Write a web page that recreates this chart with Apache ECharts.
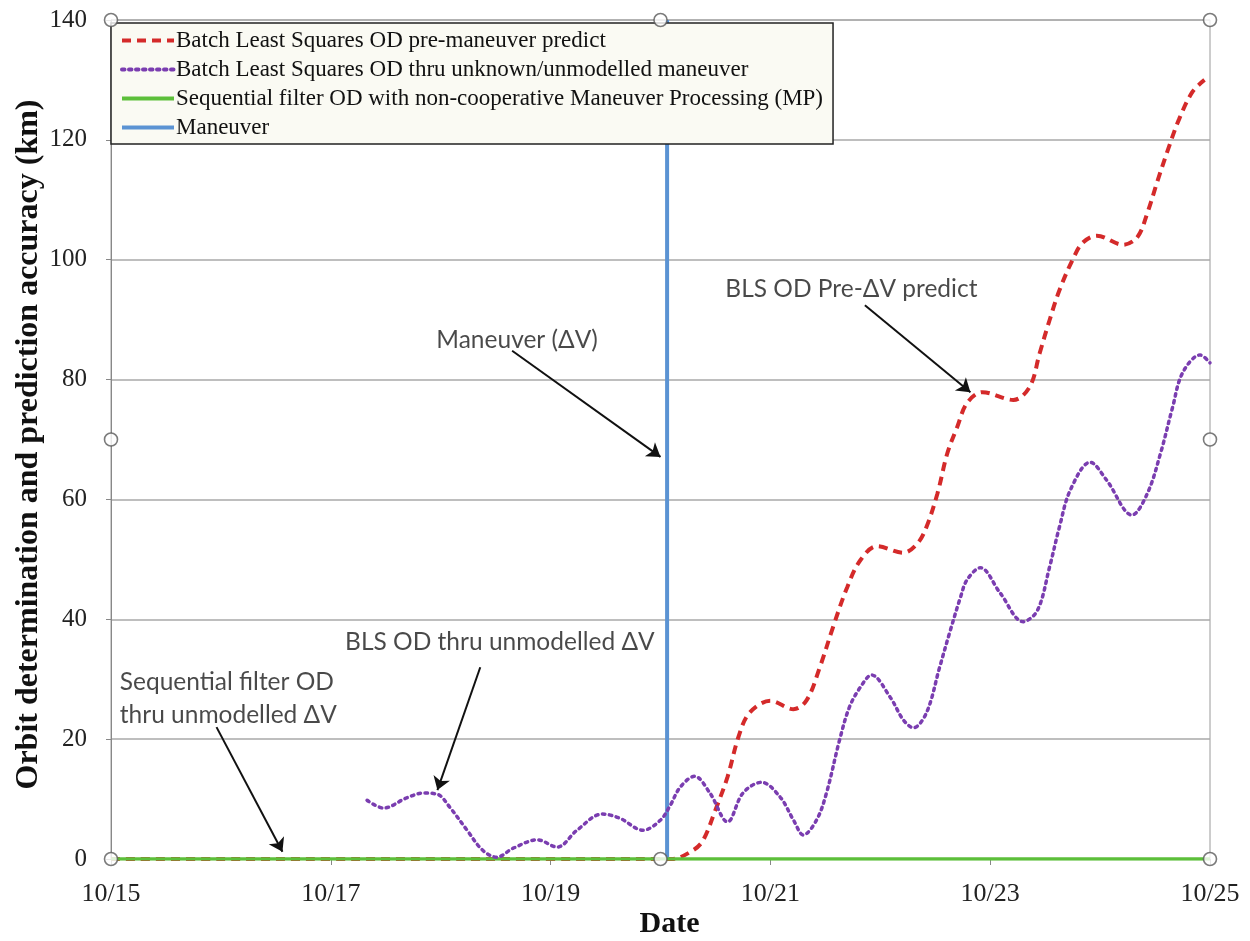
<!DOCTYPE html>
<html>
<head>
<meta charset="utf-8">
<script src="https://cdn.jsdelivr.net/npm/echarts@6/dist/echarts.min.js"></script>
<style>
html,body{margin:0;padding:0;background:#fff;}
#chart{width:1250px;height:941px;}
</style>
</head>
<body>
<div id="chart"></div>
<script>
// ---- Data (x = days since 10/15) ----
const xTickLabels = ['10/15','10/16','10/17','10/18','10/19','10/20','10/21','10/22','10/23','10/24','10/25'];
const yTicks = [0,20,40,60,80,100,120,140];

const seriesNames = [
  'Batch Least Squares OD pre-maneuver predict',
  'Batch Least Squares OD thru unknown/unmodelled maneuver',
  'Sequential filter OD with non-cooperative Maneuver Processing (MP)',
  'Maneuver'
];

const redX = [0,1,2,3,4,5,5.10,5.30,5.39,5.50,5.61,5.71,5.81,6.0,6.21,6.33,6.45,6.57,6.70,6.82,6.97,7.21,7.34,7.42,7.52,7.61,7.70,7.79,7.93,8.21,8.36,8.45,8.54,8.63,8.75,8.84,8.97,9.21,9.34,9.43,9.52,9.62,9.72,9.84,9.95];
const redY = [0,0,0,0,0,0,0,1.5,3.2,8.2,13.7,20.4,24.4,26.4,25.0,26.5,32,38.7,45.4,49.9,52.2,51.1,52.7,55.4,61,67.7,72.1,76.1,77.9,76.6,78.8,84.4,89.9,94.9,100,102.8,104,102.5,103.8,107.8,113,118.5,123.5,128,130];

const purpX = [2.33,2.48,2.69,2.84,2.97,3.08,3.24,3.38,3.51,3.66,3.88,4.06,4.24,4.47,4.63,4.84,5.0,5.09,5.18,5.31,5.45,5.61,5.75,5.92,6.09,6.21,6.30,6.42,6.51,6.63,6.72,6.82,6.92,7.09,7.21,7.30,7.42,7.54,7.63,7.73,7.79,7.91,8.09,8.30,8.43,8.54,8.63,8.73,8.91,9.06,9.29,9.43,9.55,9.66,9.75,9.91,10.0];
const purpY = [9.8,8.5,10.2,11.0,10.8,8.7,4.8,1.5,0.3,1.8,3.2,2.0,4.8,7.5,6.8,4.8,6.5,9.0,12,13.8,11,6.2,11,12.8,10.3,6.5,4,6.5,11,19.9,25.4,28.7,30.7,27,23.2,21.9,24.4,32,37.7,43.7,46.6,48.6,44.4,39.6,41.5,48.7,55.4,61.6,66.2,63.2,57.4,61,67.7,75.4,81.1,84.1,82.8];

const greenX = [0,10];
const greenY = [0,0];

const maneuverX = [5.06,5.06];
const maneuverY = [0,140];

// annotation texts (anchor = left edge, vertical centre)
const annotText = ['Maneuver (ΔV)','BLS OD Pre-ΔV predict','BLS OD thru unmodelled ΔV','Sequential filter OD\nthru unmodelled ΔV'];
const annotX = [2.96,5.59,2.13,0.08];
const annotY = [86.6,95.1,36.2,26.8];
// arrows: start -> end
const arrowX1 = [3.65,6.86,3.36,0.96];
const arrowY1 = [84.8,92.4,32.0,22.0];
const arrowX2 = [5.0,7.82,2.97,1.56];
const arrowY2 = [67.1,77.9,11.5,1.2];

// frame handles
const handleX = [0,5,10,0,10,0,5,10];
const handleY = [0,0,0,70,70,140,140,140];

const zip = (xs, ys) => xs.map((x,i) => [x, ys[i]]);

const chart = echarts.init(document.getElementById('chart'));
const serif = 'Liberation Serif';
chart.setOption({
  animation: false,
  backgroundColor: '#fff',
  grid: {left: 111, right: 40, top: 20, bottom: 82, show: true, borderColor: '#9a9a9a', borderWidth: 1,
    containLabel: false, outerBoundsMode: 'none'},
  legend: {
    data: seriesNames,
    orient: 'vertical',
    left: 111, top: 23,
    padding: [6, 10, 5, 9],
    itemGap: 6,
    itemWidth: 52, itemHeight: 14,
    itemStyle: {opacity: 0},
    lineStyle: {width: 4},
    backgroundColor: '#fafaf3',
    borderColor: '#222', borderWidth: 1.5,
    textStyle: {fontFamily: serif, fontSize: 23, color: '#111', padding: [0,0,0,-3]},
    selectedMode: false
  },
  xAxis: {
    type: 'value', min: 0, max: 10, interval: 2,
    name: 'Date', nameLocation: 'middle', nameGap: 50, nameMoveOverlap: false,
    nameTextStyle: {fontFamily: serif, fontSize: 30, fontWeight: 'bold', color: '#111', padding: [0,0,0,18]},
    axisLine: {show: true, onZero: false, lineStyle: {color: '#888'}},
    axisTick: {show: true, length: 6, lineStyle: {color: '#888'}},
    axisLabel: {fontFamily: serif, fontSize: 26, color: '#222', margin: 22,
      formatter: v => xTickLabels[Math.round(v)]},
    splitLine: {show: false}
  },
  yAxis: {
    type: 'value', min: 0, max: 140, interval: 20,
    name: 'Orbit determination and prediction accuracy (km)', nameLocation: 'middle', nameGap: 66,
    nameMoveOverlap: false,
    nameTextStyle: {fontFamily: serif, fontSize: 32, fontWeight: 'bold', color: '#111', padding: [0,0,0,-10]},
    axisLine: {show: true, lineStyle: {color: '#888'}},
    axisTick: {show: true, length: 5, lineStyle: {color: '#888'}},
    axisLabel: {fontFamily: serif, fontSize: 25, color: '#222', margin: 24,
      formatter: v => yTicks.includes(v) ? String(v) : ''},
    splitLine: {show: true, lineStyle: {color: '#a8a8a8', width: 1.5}}
  },
  series: [
    {
      name: seriesNames[0], type: 'line', symbol: 'none', smooth: 0.35, z: 3,
      data: zip(redX, redY),
      lineStyle: {color: '#d42a2a', width: 4, type: [9, 6]},
      itemStyle: {color: '#d42a2a'}
    },
    {
      name: seriesNames[1], type: 'line', symbol: 'none', smooth: 0.35, z: 5,
      data: zip(purpX, purpY),
      lineStyle: {color: '#7a3db0', width: 3.5, type: [2.5, 4.5], cap: 'round'},
      itemStyle: {color: '#7a3db0'}
    },
    {
      name: seriesNames[2], type: 'line', symbol: 'none', z: 4,
      data: zip(greenX, greenY),
      lineStyle: {color: '#5cbf3a', width: 3.5},
      itemStyle: {color: '#5cbf3a'}
    },
    {
      name: seriesNames[3], type: 'line', symbol: 'none', z: 3,
      data: zip(maneuverX, maneuverY),
      lineStyle: {color: '#5b93d3', width: 4},
      itemStyle: {color: '#5b93d3'}
    },
    {
      name: 'annotations', type: 'scatter', symbolSize: 0, z: 6, silent: true,
      data: annotText.map((t,i) => ({value: [annotX[i], annotY[i]], label: {formatter: t}})),
      label: {show: true, position: 'inside', align: 'left', verticalAlign: 'middle',
        fontFamily: 'Lato', fontSize: 24.5, color: '#1c1c1c', lineHeight: 33},
      markLine: {
        silent: true, symbol: ['none', 'arrow'], symbolSize: 13,
        label: {show: false},
        lineStyle: {color: '#111', width: 2, type: 'solid'},
        data: arrowX1.map((x,i) => [{coord: [x, arrowY1[i]]}, {coord: [arrowX2[i], arrowY2[i]]}])
      }
    },
    {
      name: 'handles', type: 'scatter', symbol: 'circle', symbolSize: 13, z: 10, silent: true, clip: false,
      data: zip(handleX, handleY),
      itemStyle: {color: '#fff', borderColor: '#5a5a5a', borderWidth: 1.6}
    }
  ]
});
</script>
</body>
</html>
